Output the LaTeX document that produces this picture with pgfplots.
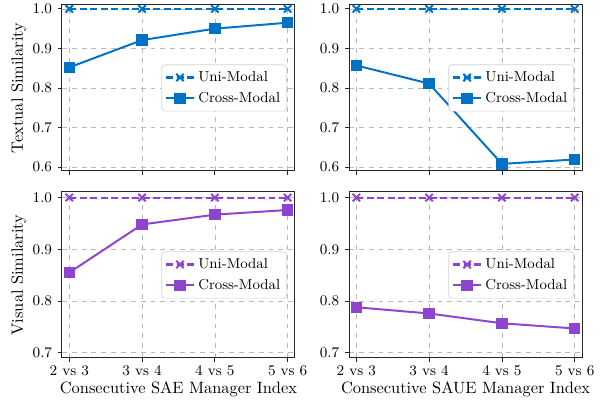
\documentclass[border=0pt]{standalone}
\usepackage{pgfplots}
\pgfplotsset{compat=1.18}
\definecolor{cblue}{HTML}{0072C6}
\definecolor{cpurp}{HTML}{8E44CF}
\pgfplotsset{
  myax/.style={
    scale only axis, width=142.1pt, height=101.3pt,
    anchor=south west,
    xmin=-0.1, xmax=3.1,
    xtick={0,1,2,3},
    grid=major,
    grid style={dashed, gray!55, line width=0.4pt},
    tick align=outside, tick pos=left,
    major tick length=2.5pt,
    axis line style={black!85, line width=0.6pt},
    tick style={black!85, line width=0.5pt},
    tick label style={font=\fontsize{9}{10}\selectfont},
    xticklabel style={yshift=1.5pt},
    label style={font=\fontsize{10}{12}\selectfont},
    xlabel style={yshift=3pt},
    ylabel style={yshift=-3pt},
    legend style={at={(rel axis cs:0.966,0.5)}, anchor=east,
      draw=gray!35, rounded corners=2pt, fill=white,
      font=\fontsize{8.8}{10}\selectfont, row sep=1pt, inner sep=2pt},
    legend cell align=left,
  },
  uni/.style={line width=1.3pt, dash pattern=on 4.2pt off 2.2pt, mark=x, mark size=3.2pt, mark options={solid, line width=1.2pt}},
  cross/.style={solid, line width=1.2pt, mark=square*, mark size=2.9pt},
}
\begin{document}
\begin{tikzpicture}
\useasboundingbox (0,0) rectangle (367.2pt,245.8pt);
% top left
\begin{axis}[myax, at={(37.8pt,141.5pt)}, ymin=0.59, ymax=1.01,
  ytick={0.6,0.7,0.8,0.9,1.0}, yticklabels={0.6,0.7,0.8,0.9,1.0},
  xticklabels={}, ylabel={Textual Similarity}]
\addplot[uni, color=cblue] coordinates {(0,1.0) (1,1.0) (2,1.0) (3,1.0)};
\addlegendentry{Uni-Modal}
\addplot[cross, color=cblue, mark options={fill=cblue, draw=cblue}] coordinates {(0,0.852) (1,0.921) (2,0.950) (3,0.965)};
\addlegendentry{Cross-Modal}
\end{axis}
% top right
\begin{axis}[myax, at={(212.9pt,141.5pt)}, ymin=0.59, ymax=1.01,
  ytick={0.6,0.7,0.8,0.9,1.0}, yticklabels={0.6,0.7,0.8,0.9,1.0},
  xticklabels={}]
\addplot[uni, color=cblue] coordinates {(0,1.0) (1,1.0) (2,1.0) (3,1.0)};
\addlegendentry{Uni-Modal}
\addplot[cross, color=cblue, mark options={fill=cblue, draw=cblue}] coordinates {(0,0.857) (1,0.811) (2,0.608) (3,0.619)};
\addlegendentry{Cross-Modal}
\end{axis}
% bottom left
\begin{axis}[myax, at={(37.8pt,27.45pt)}, ymin=0.69, ymax=1.011,
  ytick={0.7,0.8,0.9,1.0}, yticklabels={0.7,0.8,0.9,1.0},
  xticklabels={2 vs 3,3 vs 4,4 vs 5,5 vs 6},
  ylabel={Visual Similarity}, xlabel={Consecutive SAE Manager Index}]
\addplot[uni, color=cpurp] coordinates {(0,1.0) (1,1.0) (2,1.0) (3,1.0)};
\addlegendentry{Uni-Modal}
\addplot[cross, color=cpurp, mark options={fill=cpurp, draw=cpurp}] coordinates {(0,0.855) (1,0.948) (2,0.967) (3,0.976)};
\addlegendentry{Cross-Modal}
\end{axis}
% bottom right
\begin{axis}[myax, at={(212.9pt,27.45pt)}, ymin=0.69, ymax=1.011,
  ytick={0.7,0.8,0.9,1.0}, yticklabels={0.7,0.8,0.9,1.0},
  xticklabels={2 vs 3,3 vs 4,4 vs 5,5 vs 6},
  xlabel={Consecutive SAUE Manager Index}]
\addplot[uni, color=cpurp] coordinates {(0,1.0) (1,1.0) (2,1.0) (3,1.0)};
\addlegendentry{Uni-Modal}
\addplot[cross, color=cpurp, mark options={fill=cpurp, draw=cpurp}] coordinates {(0,0.788) (1,0.776) (2,0.757) (3,0.747)};
\addlegendentry{Cross-Modal}
\end{axis}
\end{tikzpicture}
\end{document}
